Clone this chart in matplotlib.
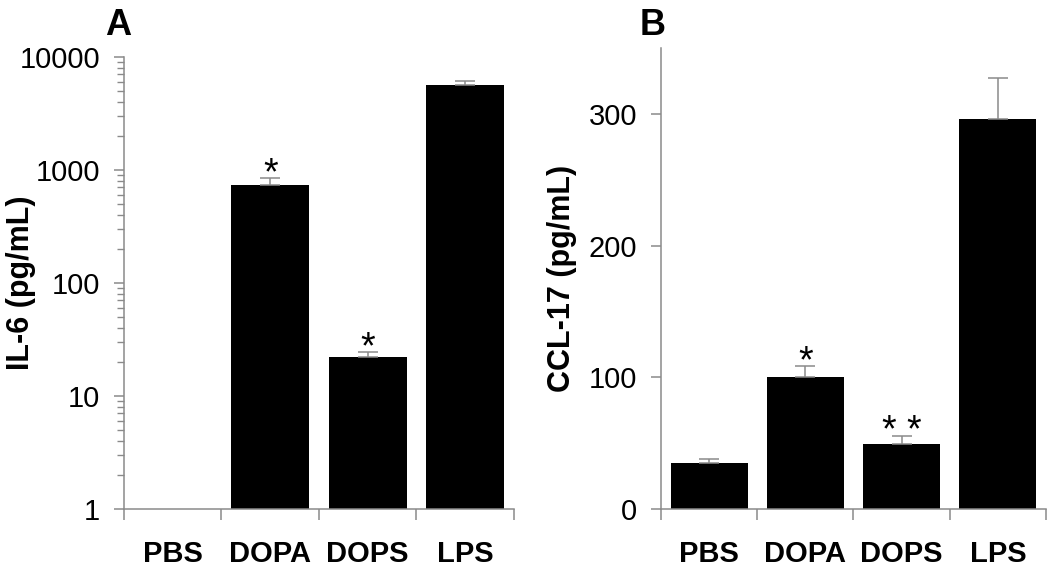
import numpy as np
import matplotlib

matplotlib.use('Agg')

import matplotlib.pyplot as plt
from matplotlib.ticker import FixedLocator, NullFormatter, LogLocator

plt.rcParams['font.family'] = ['Liberation Sans', 'DejaVu Sans']

groups = ['PBS', 'DOPA', 'DOPS', 'LPS']

# panel A: IL-6, log scale (PBS below detection)
il6 = [0, 735, 22.2, 5650]
il6_err = [0, 115, 2.3, 500]
il6_sig = ['', '*', '*', '']

# panel B: CCL-17
ccl17 = [35, 100.5, 49.5, 296]
ccl17_err = [3, 8, 6, 31]
ccl17_sig = ['', '*', '* *', '']

grey = '#8a8a8a'

fig = plt.figure(figsize=(10.5, 5.75), dpi=100)
axA = fig.add_axes([0.118, 0.1148, 0.3715, 0.7861])
axB = fig.add_axes([0.6295, 0.1148, 0.3667, 0.8017])

x = np.arange(len(groups))


def style(ax):
    for s in ['top', 'right']:
        ax.spines[s].set_visible(False)
    for s in ['left', 'bottom']:
        ax.spines[s].set_color(grey)
        ax.spines[s].set_linewidth(1.1)
    ax.set_xlim(-0.5, len(groups) - 0.5)
    ax.set_xticks(x)
    ax.set_xticklabels(groups, fontsize=21, fontweight='bold')
    ax.xaxis.set_minor_locator(FixedLocator(np.arange(-0.5, len(groups), 1.0)))
    ax.tick_params(axis='x', which='major', length=0, pad=22)
    ax.tick_params(axis='x', which='minor', length=8, width=1.1, color=grey)
    ax.tick_params(axis='y', which='major', length=7, width=1.1, color=grey,
                   labelsize=21, pad=10)


def stars(ax, vals, errs, sig):
    for i in range(len(groups)):
        if sig[i]:
            ax.annotate(sig[i], (x[i], vals[i] + errs[i]), xytext=(0, -10),
                        textcoords='offset points', ha='center', va='bottom',
                        fontsize=27)


# ---- A ----
mask = np.array(il6) > 0
axA.bar(x[mask], np.array(il6)[mask], width=0.8, color='black', bottom=0)
axA.errorbar(x[mask], np.array(il6)[mask],
             yerr=[np.zeros(mask.sum()), np.array(il6_err)[mask]],
             fmt='none', ecolor=grey, elinewidth=1.1, capsize=7, capthick=1.1)
axA.set_yscale('log')
axA.set_ylim(1, 10000)
axA.yaxis.set_major_locator(FixedLocator([1, 10, 100, 1000, 10000]))
axA.set_yticklabels(['1', '10', '100', '1000', '10000'])
axA.yaxis.set_minor_locator(LogLocator(base=10, subs=np.arange(2, 10)))
axA.yaxis.set_minor_formatter(NullFormatter())
style(axA)
axA.tick_params(axis='y', which='minor', length=5, width=1, color=grey)
axA.set_ylabel('IL-6 (pg/mL)', fontsize=22, fontweight='bold')
axA.yaxis.set_label_coords(-0.226, 0.5)
stars(axA, il6, il6_err, il6_sig)

# ---- B ----
axB.bar(x, ccl17, width=0.8, color='black')
axB.errorbar(x, ccl17, yerr=[np.zeros(len(groups)), ccl17_err],
             fmt='none', ecolor=grey, elinewidth=1.1, capsize=7, capthick=1.1)
axB.set_ylim(0, 350)
axB.set_yticks([0, 100, 200, 300])
style(axB)
axB.set_ylabel('CCL-17 (pg/mL)', fontsize=22, fontweight='bold')
axB.yaxis.set_label_coords(-0.218, 0.5)
stars(axB, ccl17, ccl17_err, ccl17_sig)

fig.text(118 / 1050, 1 - 35 / 575, 'A', ha='center', va='baseline',
         fontsize=26, fontweight='bold')
fig.text(653 / 1050, 1 - 35 / 575, 'B', ha='center', va='baseline',
         fontsize=26, fontweight='bold')

fig.savefig('out.png', dpi=100)
